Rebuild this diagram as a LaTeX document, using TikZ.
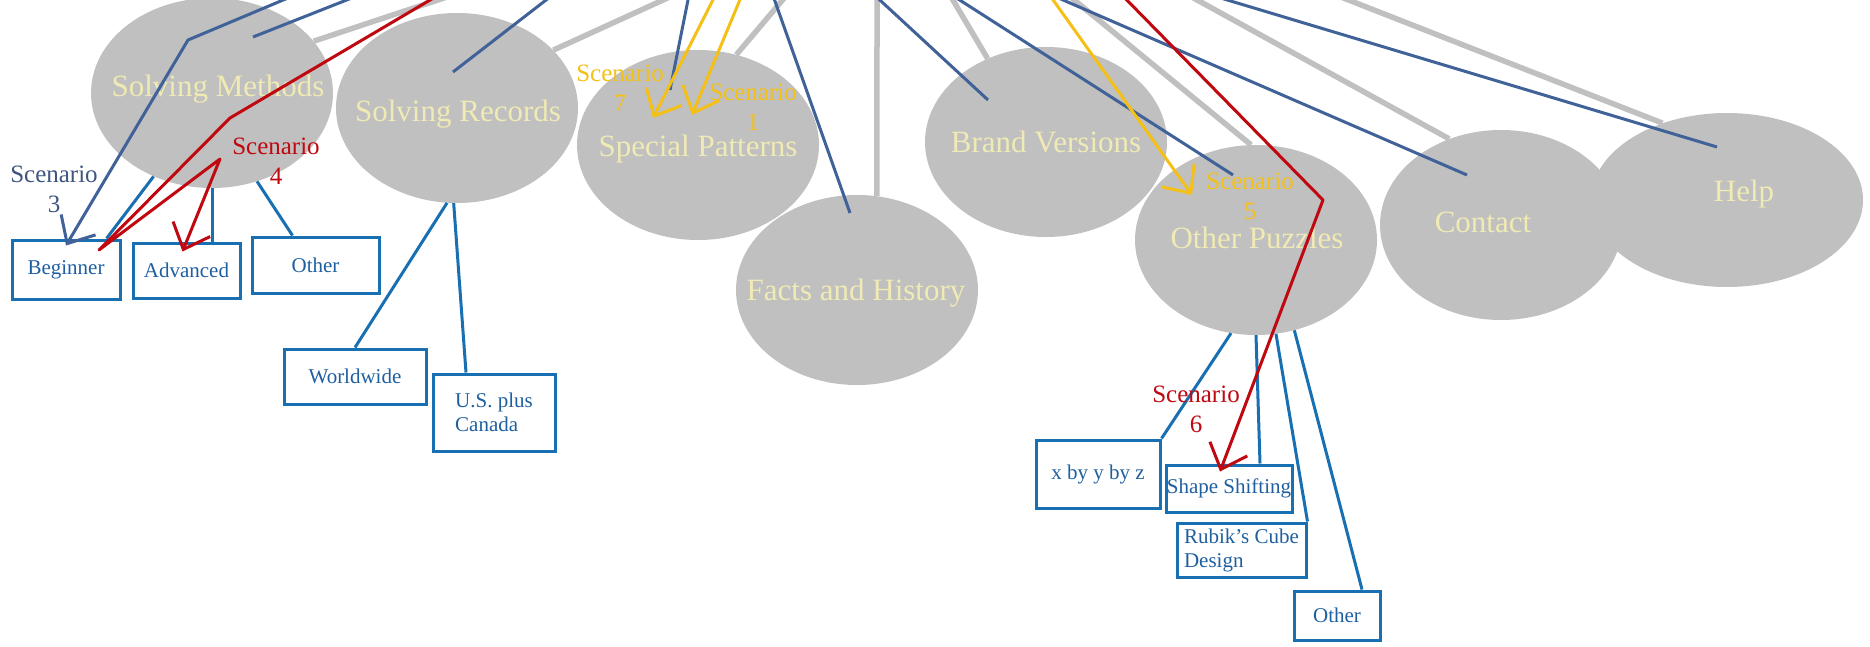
\documentclass[tikz,border=0pt]{standalone}
\usepackage{fontspec}
\setmainfont{Liberation Serif}
\usetikzlibrary{shapes.geometric, arrows.meta}

\definecolor{gris}{RGB}{192,192,192}
\definecolor{crema}{RGB}{240,234,180}
\definecolor{azul}{RGB}{64,98,152}
\definecolor{azulcaja}{RGB}{24,112,178}
\definecolor{textocaja}{RGB}{30,95,160}
\definecolor{amarillo}{RGB}{244,192,22}
\definecolor{rojo}{RGB}{192,8,16}
\definecolor{azulgris}{RGB}{62,86,128}

\tikzset{
  globo/.style={ellipse, fill=gris, minimum width=242pt, minimum height=190pt, inner sep=0pt},
  titulo/.style={anchor=base, text=crema, font=\fontsize{31}{36}\selectfont},
  caja/.style={draw=azulcaja, line width=3pt, inner sep=0pt, text=textocaja, font=\fontsize{21}{24}\selectfont, align=left},
  raiz/.style={gris, line width=5.5pt},
  enlace/.style={azul, line width=3pt},
  rama/.style={azulcaja, line width=3pt},
  escenario/.style={line width=3pt, line join=round, -{Straight Barb[length=22pt,width=40pt]}},
  nota/.style={align=center, font=\fontsize{25}{30}\selectfont}
}

\begin{document}
\begin{tikzpicture}[x=1pt, y=-1pt]
\useasboundingbox (0,0) rectangle (1870,647);
\clip (0,0) rectangle (1870,647);

% Globos
\node[globo] (methods) at (212,93) {};
\node[globo] (records) at (457,108) {};
\node[globo] (patterns) at (698,145) {};
\node[globo] (facts) at (857,290) {};
\node[globo] (brands) at (1046,142) {};
\node[globo] (puzzles) at (1256,240) {};
\node[globo] (contact) at (1501,225) {};
\node[globo, minimum width=272pt, minimum height=174pt] (help) at (1727,200) {};

% Puntos de arriba (fuera del dibujo)
\coordinate (g1) at (468,-10);
\coordinate (g2) at (685,-10);
\coordinate (g3) at (791,-10);
\coordinate (g4) at (877,-10);
\coordinate (g5) at (947,-10);
\coordinate (g6) at (1062,-10);
\coordinate (g7) at (1179,-10);
\coordinate (g8) at (1323,-10);
\coordinate (b1) at (372,-10);
\coordinate (b2) at (307,-10);
\coordinate (b3) at (559,-10);
\coordinate (b4) at (690,-10);
\coordinate (b5) at (771,-10);
\coordinate (b6) at (869,-10);
\coordinate (b7) at (944,-10);
\coordinate (b8) at (1040,-10);
\coordinate (b9) at (1194,-10);
\coordinate (y7) at (718,-10);
\coordinate (y1) at (744,-10);
\coordinate (y5) at (1046,-10);
\coordinate (r4) at (447,-10);
\coordinate (r6) at (1117,-10);

% Lineas grises
\draw[raiz] (g1) -- (methods.27);
\draw[raiz] (g2) -- (records.31);
\draw[raiz] (g3) -- (patterns.67);
\draw[raiz] (g4) -- (facts.78);
\draw[raiz] (g5) -- (brands.125);
\draw[raiz] (g6) -- (puzzles.93);
\draw[raiz] (g7) -- (contact.121);
\draw[raiz] (g8) -- (help.130);

% Etiquetas de los globos
\node[titulo] (methods-t) at (218,97) {Solving Methods};
\node[titulo] (records-t) at (458,122) {Solving Records};
\node[titulo] (patterns-t) at (698,157) {Special Patterns};
\node[titulo] (facts-t) at (856,300) {Facts and History};
\node[titulo] (brands-t) at (1046,153) {Brand Versions};
\node[titulo] (puzzles-t) at (1257,248) {Other Puzzles};
\node[titulo] (contact-t) at (1483,233) {Contact};
\node[titulo] (help-t) at (1744,201) {Help};

% Lineas azules hacia dentro
\coordinate (in-methods) at (253,37);
\coordinate (in-records) at (453,72);
\coordinate (in-patterns) at (670,90);
\coordinate (in-facts) at (850,213);
\coordinate (in-brands) at (988,100);
\coordinate (in-puzzles) at (1233,175);
\coordinate (in-contact) at (1467,175);
\coordinate (in-help) at (1717,147);
\draw[enlace] (b1) -- (in-methods);
\draw[enlace] (b3) -- (in-records);
\draw[enlace] (b4) -- (in-patterns);
\draw[enlace] (b5) -- (in-facts);
\draw[enlace] (b6) -- (in-brands);
\draw[enlace] (b7) -- (in-puzzles);
\draw[enlace] (b8) -- (in-contact);
\draw[enlace] (b9) -- (in-help);

% Cajas
\node[caja, minimum width=108pt, minimum height=59pt] (beginner) at (66,269.5) {Beginner};
\node[caja, minimum width=107pt, minimum height=55pt] (advanced) at (186.5,270.5) {Advanced};
\node[caja, minimum width=127pt, minimum height=56pt] (otherA) at (315.5,265) {Other};
\node[caja, minimum width=142pt, minimum height=55pt] (worldwide) at (355,376.5) {Worldwide};
\node[caja, minimum width=122pt, minimum height=77pt] (usca) at (494,412.5) {U.S. plus\\Canada};
\node[caja, minimum width=124pt, minimum height=68pt] (xyz) at (1098,474) {x by y by z};
\node[caja, minimum width=126pt, minimum height=47pt] (shape) at (1229,488.5) {Shape Shifting};
\node[caja, minimum width=129pt, minimum height=54pt] (rubik) at (1241.5,550) {Rubik's Cube\\Design};
\node[caja, minimum width=86pt, minimum height=49pt] (otherB) at (1337,615.5) {Other};

% Ramas
\draw[rama] (methods.-125) -- ([xshift=-15pt]beginner.north east);
\draw[rama] (methods.south) -- (methods.south |- advanced.north);
\draw[rama] (methods.-63) -- ([xshift=-23pt]otherA.north);
\draw[rama] (records.-96) -- (worldwide.north);
\draw[rama] (records.-92) -- ([xshift=-28pt]usca.north);
\draw[rama] (puzzles.-105) -- (xyz.north east);
\draw[rama] (puzzles.-90) -- ([xshift=31pt]shape.north);
\draw[rama] (puzzles.-78) -- (rubik.north east);
\draw[rama] (puzzles.-67) -- ([xshift=25pt]otherB.north);

% Escenarios
\coordinate (p7) at (653,118);
\coordinate (p1) at (692,115);
\coordinate (p5) at (1192,195);
\draw[escenario, azul] (b2) -- (188,40) -- ([yshift=-7pt]beginner.north);
\draw[escenario, rojo] (r4) -- (230,118) -- (99,250) -- (220,159) -- ([xshift=-4pt,yshift=-10pt]advanced.north);
\draw[escenario, amarillo] (y7) -- (p7);
\draw[escenario, amarillo] (y1) -- (p1);
\draw[escenario, amarillo] (y5) -- (p5);
\draw[escenario, rojo] (r6) -- (1323,200) -- ([xshift=-9pt,yshift=-8pt]shape.north);

\node[nota, text=azulgris] (s3) at (54,189) {Scenario\\3};
\node[nota, text=rojo] (s4) at (276,161) {Scenario\\4};
\node[nota, text=amarillo] (s7) at (620,88) {Scenario\\7};
\node[nota, text=amarillo] (s1) at (753,107) {Scenario\\1};
\node[nota, text=amarillo] (s5) at (1250,196) {Scenario\\5};
\node[nota, text=rojo] (s6) at (1196,409) {Scenario\\6};

\end{tikzpicture}
\end{document}
